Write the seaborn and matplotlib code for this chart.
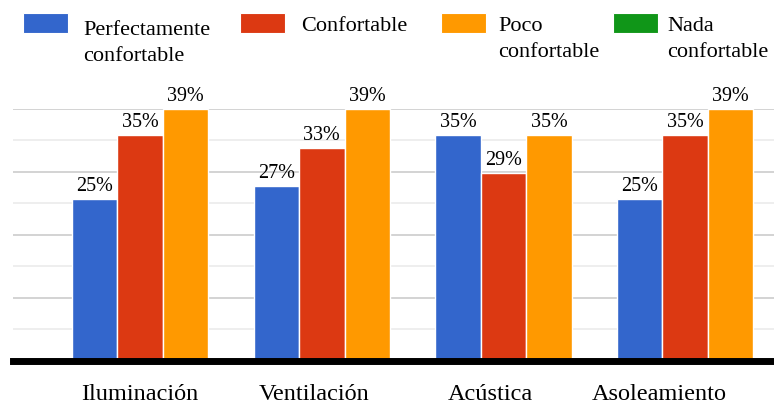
import numpy as np
import pandas as pd
import matplotlib
matplotlib.use("Agg")
import matplotlib.pyplot as plt
from matplotlib.patches import Rectangle
import seaborn as sns

# data
aspectos = ["Iluminación", "Ventilación", "Acústica", "Asoleamiento"]
niveles = ["Perfectamente\nconfortable", "Confortable", "Poco\nconfortable", "Nada\nconfortable"]
perfectamente = [25, 27, 35, 25]
confortable = [35, 33, 29, 35]
poco = [39, 39, 35, 39]
nada = [0, 0, 0, 0]

colores = ["#3366CC", "#DC3912", "#FF9900", "#109618"]

df = pd.DataFrame({
    "aspecto": aspectos * 4,
    "nivel": sum([[n] * 4 for n in niveles], []),
    "valor": perfectamente + confortable + poco + nada,
})

sns.set_theme(style="white")
plt.rcParams["font.family"] = ["Liberation Serif", "DejaVu Serif"]

W, H = 774, 406
fig = plt.figure(figsize=(W / 100, H / 100), dpi=100)
ax = fig.add_axes([13 / W, 1 - 361.5 / H, 1 - 13 / W, (361.5 - 110) / H])

sns.barplot(data=df, x="aspecto", y="valor", hue="nivel", order=aspectos,
            hue_order=niveles, palette=colores, saturation=1, width=1.0, gap=0,
            edgecolor="white", linewidth=1.0, ax=ax, legend=False, zorder=3)

ax.set_xlim(-0.825, 3.364)
ax.set_ylim(0, 39)
ax.set_yticks(np.linspace(0, 39, 5))
ax.set_yticks(np.linspace(0, 39, 9), minor=True)
ax.yaxis.grid(True, which="major", color="#cccccc", linewidth=1.2, zorder=0)
ax.yaxis.grid(True, which="minor", color="#ebebeb", linewidth=1.2, zorder=0)
ax.set_axisbelow(True)
ax.tick_params(axis="y", which="both", left=False, labelleft=False)

for s in ["top", "right", "left"]:
    ax.spines[s].set_visible(False)
ax.spines["bottom"].set_linewidth(5)
ax.spines["bottom"].set_color("black")
ax.spines["bottom"].set_zorder(5)

# category labels (sit slightly left of each group, as in the original)
etiqueta_pos = [-0.126, 0.832, 1.803, 2.730]
ax.set_xticks(etiqueta_pos)
ax.set_xticklabels(aspectos, fontsize=17.5, color="black")
ax.tick_params(axis="x", length=0, pad=16)
ax.set_xlabel("")
ax.set_ylabel("")

# value labels
for cont, vals in zip(ax.containers[:3], [perfectamente, confortable, poco]):
    ax.bar_label(cont, labels=[f"{v}%" for v in vals], padding=3,
                 fontsize=14.5, color="black")

# legend drawn by hand so the swatch lines up with the first text line
sw_x = [23, 240, 441, 613]
txt_x = [83, 301, 498, 667]
base1 = [35, 31, 31, 31]
for i, lab in enumerate(niveles):
    fig.add_artist(Rectangle((sw_x[i] / W, 1 - 34 / H), 45 / W, 20 / H,
                             transform=fig.transFigure, facecolor=colores[i],
                             edgecolor="white", linewidth=0.8))
    for j, line in enumerate(lab.split("\n")):
        fig.text(txt_x[i] / W, 1 - (base1[i] + 26 * j) / H, line,
                 fontsize=16, va="baseline", ha="left", color="black")

fig.savefig("out.png", dpi=100)
